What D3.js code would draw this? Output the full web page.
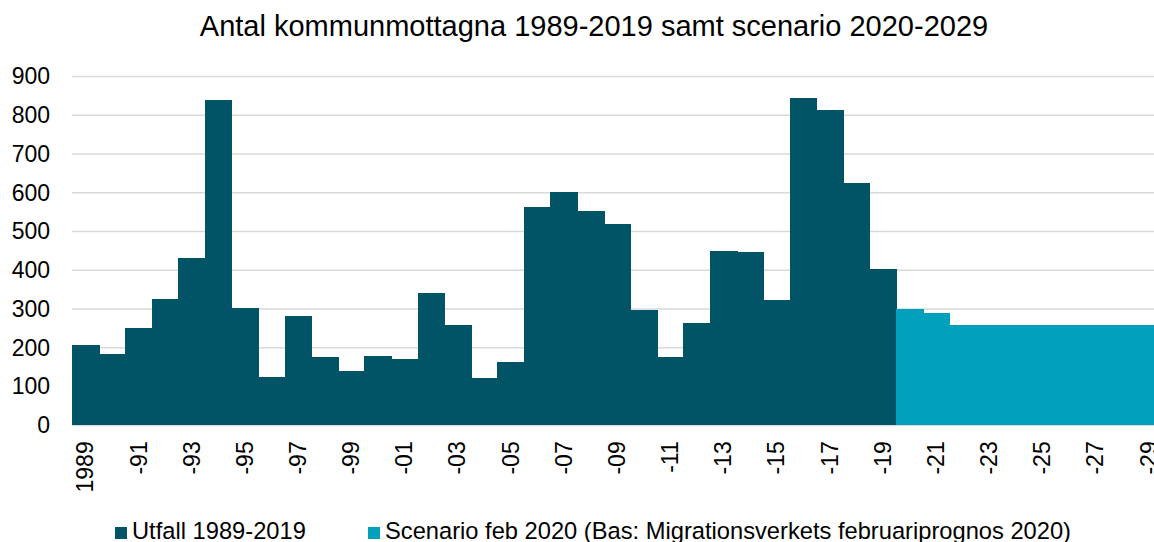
<!DOCTYPE html>
<html>
<head>
<meta charset="utf-8">
<script src="https://cdn.jsdelivr.net/npm/d3@7"></script>
<style>
  body { margin: 0; background: #fff; overflow: hidden; }
  text { font-family: "Liberation Sans", Arial, sans-serif; fill: #000; }
</style>
</head>
<body>
<div id="chart"></div>
<script>
var years = d3.range(1989, 2030);
var utfall = [207, 184, 251, 326, 432, 839, 303, 125, 282, 176, 140, 179, 171, 341, 259,
              122, 163, 563, 602, 553, 519, 298, 176, 264, 450, 447, 323, 845, 814, 625, 403];
var scenario = [300, 290, 258, 258, 258, 258, 258, 258, 258, 258];
var yTicks = [0, 100, 200, 300, 400, 500, 600, 700, 800, 900];
var seriesNames = ["Utfall 1989-2019", "Scenario feb 2020 (Bas: Migrationsverkets februariprognos 2020)"];
var colors = ["#015366", "#00A0BC"];

var data = years.map(function (y, i) {
  return i < utfall.length
    ? {year: y, value: utfall[i], s: 0}
    : {year: y, value: scenario[i - utfall.length], s: 1};
});

var width = 1154, height = 542;
var margin = {top: 76.5, left: 72, bottom: 116.7};

var svg = d3.select("#chart")
  .append("svg")
    .attr("width", width)
    .attr("height", height);

var x = d3.scaleBand()
  .domain(years)
  .range([margin.left, margin.left + years.length * 26.58])
  .padding(0);

var y = d3.scaleLinear()
  .domain([0, 900])
  .range([height - margin.bottom, margin.top]);

// gridlines
svg.append("g")
  .selectAll("line")
  .data(yTicks)
  .enter()
  .append("line")
    .attr("x1", margin.left)
    .attr("x2", width)
    .attr("y1", function (d) { return y(d); })
    .attr("y2", function (d) { return y(d); })
    .attr("stroke", "#d9d9d9")
    .attr("stroke-width", 1.5);

// y axis labels
var yAxis = svg.append("g")
  .attr("transform", "translate(" + (margin.left - 22) + ",0)")
  .call(d3.axisLeft(y).tickValues(yTicks).tickSize(0).tickPadding(0));
yAxis.select(".domain").remove();
yAxis.selectAll("text")
  .attr("font-size", 23)
  .attr("font-family", "Liberation Sans, Arial, sans-serif")
  .attr("fill", "#000");

// bars
svg.append("g")
  .attr("shape-rendering", "crispEdges")
  .selectAll("rect")
  .data(data)
  .enter()
  .append("rect")
    .attr("x", function (d) { return x(d.year); })
    .attr("y", function (d) { return y(d.value); })
    .attr("width", x.bandwidth() + 1)
    .attr("height", function (d) { return y(0) - y(d.value); })
    .attr("fill", function (d) { return colors[d.s]; });

// x axis labels
var xAxis = svg.append("g")
  .attr("transform", "translate(0," + y(0) + ")")
  .call(d3.axisBottom(x)
    .tickValues(years.filter(function (d) { return d % 2 === 1; }))
    .tickSize(0)
    .tickFormat(function (d) { return d === 1989 ? "1989" : "-" + String(d).slice(2); }));
xAxis.select(".domain").remove();
xAxis.selectAll("text")
  .attr("font-size", 23)
  .attr("font-family", "Liberation Sans, Arial, sans-serif")
  .attr("fill", "#000")
  .attr("text-anchor", "end")
  .attr("transform", "rotate(-90)")
  .attr("x", -16)
  .attr("y", 0)
  .attr("dy", "0.35em");

// title
svg.append("text")
  .attr("x", 594)
  .attr("y", 36)
  .attr("text-anchor", "middle")
  .attr("font-size", 29)
  .text("Antal kommunmottagna 1989-2019 samt scenario 2020-2029");

// legend
var legendX = [115, 368];
var legend = svg.append("g")
  .selectAll("g")
  .data(seriesNames)
  .enter()
  .append("g")
    .attr("transform", function (d, i) { return "translate(" + legendX[i] + ",527)"; });
legend.append("rect")
  .attr("width", 12)
  .attr("height", 12)
  .attr("fill", function (d, i) { return colors[i]; });
legend.append("text")
  .attr("x", 17)
  .attr("y", 12)
  .attr("font-size", 23.7)
  .text(function (d) { return d; });
</script>
</body>
</html>
